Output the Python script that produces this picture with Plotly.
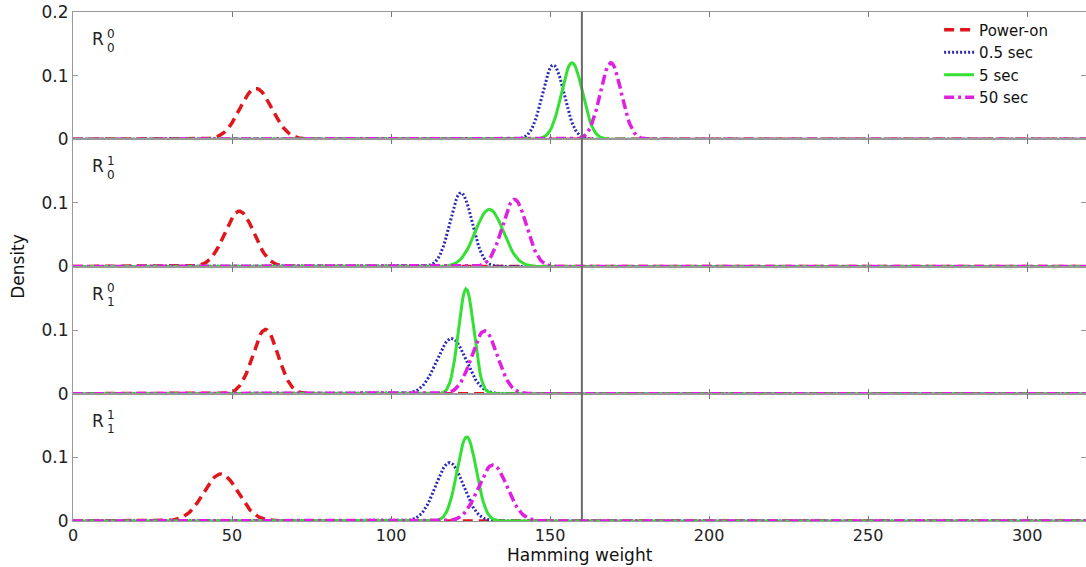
import numpy as np
import plotly.graph_objects as go
from plotly.subplots import make_subplots

# ---------------- data (fitted normal densities) ----------------
hamming_weight = np.arange(0, 320.5, 0.5)
series_names = ["Power-on", "0.5 sec", "5 sec", "50 sec"]

# one value per panel (R00, R01, R10, R11)
mean_power_on = [57.5, 52.3, 60.5, 46.5]
sd_power_on = [4.99, 4.59, 3.95, 5.39]
mean_05s = [151.0, 122.0, 119.0, 118.4]
sd_05s = [3.42, 3.44, 4.59, 4.35]
mean_5s = [156.9, 130.9, 123.6, 123.8]
sd_5s = [3.32, 4.44, 2.42, 3.02]
mean_50s = [169.1, 138.8, 129.4, 132.0]
sd_50s = [3.32, 3.78, 4.04, 4.53]

panel_sup = ["0", "1", "0", "1"]
panel_sub = ["0", "0", "1", "1"]
threshold = [160]

x_ticks = [0, 50, 100, 150, 200, 250, 300]
y_ticks = [0, 0.1, 0.2]

# ---------------- styles ----------------
FONT = "DejaVu Sans"
colors = ["#e0161b", "#2a2ab8", "#33e033", "#e020e0"]
dashes = ["10px,6px", "2px,2px", "solid", "10px,4px,3px,4px"]
widths = [3.5, 3, 3, 3.5]

params = [(mean_power_on, sd_power_on), (mean_05s, sd_05s),
          (mean_5s, sd_5s), (mean_50s, sd_50s)]


def normal_pdf(x, mu, sd):
    return np.exp(-0.5 * ((x - mu) / sd) ** 2) / (sd * np.sqrt(2 * np.pi))


fig = make_subplots(rows=4, cols=1, shared_xaxes=True, vertical_spacing=0)

for p in range(4):
    for s, name in enumerate(series_names):
        mu_list, sd_list = params[s]
        fig.add_trace(go.Scatter(
            x=hamming_weight,
            y=normal_pdf(hamming_weight, mu_list[p], sd_list[p]),
            mode="lines", name=name, legendgroup=name,
            showlegend=(p == 0),
            line=dict(color=colors[s], dash=dashes[s], width=widths[s]),
        ), row=p + 1, col=1)

for p in range(4):
    fig.update_xaxes(range=[0, 318.5], tickvals=x_ticks, ticks="inside", ticklen=5,
                     tickcolor="#777", showline=True, linecolor="#999", linewidth=1,
                     mirror="ticks", showgrid=False, zeroline=False,
                     tickfont=dict(family=FONT, size=16, color="#222"),
                     row=p + 1, col=1)
    ticktext = ["0", "0.1", "0.2"] if p == 0 else ["0", "0.1", ""]
    fig.update_yaxes(range=[0, 0.2], tickvals=y_ticks, ticktext=ticktext,
                     ticks="inside", ticklen=5, tickcolor="#999",
                     showline=True, linecolor="#999", linewidth=1, mirror="ticks",
                     showgrid=False, zeroline=False,
                     tickfont=dict(family=FONT, size=17, color="#222"),
                     row=p + 1, col=1)

# threshold vertical line
fig.add_shape(type="line", x0=threshold[0], x1=threshold[0], xref="x", yref="paper",
              y0=0, y1=1, line=dict(color="#6a6a6a", width=2))

# panel labels R with stacked sup/sub
for p in range(4):
    xr = "x" if p == 0 else f"x{p + 1}"
    yr = "y" if p == 0 else f"y{p + 1}"
    fig.add_annotation(x=7.9, y=0.1575, xref=xr, yref=yr, text="R", showarrow=False,
                       font=dict(family=FONT, size=17, color="#222"))
    fig.add_annotation(x=11.9, y=0.166, xref=xr, yref=yr, text=panel_sup[p], showarrow=False,
                       font=dict(family=FONT, size=12, color="#222"))
    fig.add_annotation(x=11.9, y=0.144, xref=xr, yref=yr, text=panel_sub[p], showarrow=False,
                       font=dict(family=FONT, size=12, color="#222"))

fig.add_annotation(text="Density", xref="paper", yref="paper", x=-0.055, y=0.5,
                   xanchor="center", yanchor="middle",
                   textangle=-90, showarrow=False,
                   font=dict(family=FONT, size=17, color="#111"))
fig.add_annotation(text="Hamming weight", xref="paper", yref="paper", x=0.5, y=-0.067,
                   xanchor="center", yanchor="middle", showarrow=False,
                   font=dict(family=FONT, size=17, color="#111"))

fig.update_layout(
    width=1086, height=567,
    margin=dict(l=73, r=0, t=12, b=46),
    plot_bgcolor="white", paper_bgcolor="white",
    legend=dict(x=0.855, y=0.997, xanchor="left", yanchor="top",
                bgcolor="rgba(0,0,0,0)", font=dict(family=FONT, size=15, color="#111"),
                tracegroupgap=0, itemwidth=30),
)

fig.write_html("out.html")
